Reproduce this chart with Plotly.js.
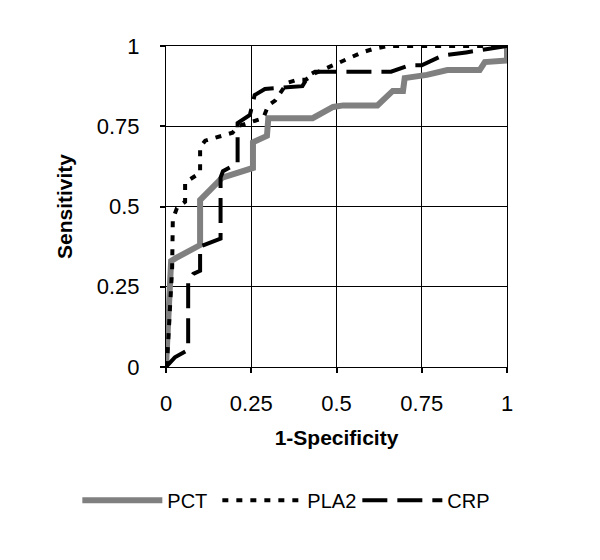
<!DOCTYPE html>
<html>
<head>
<meta charset="utf-8">
<script src="https://cdn.plot.ly/plotly-3.0.1.min.js"></script>
<style>
  body { margin: 0; background: #fff; }
  #roc { width: 600px; height: 560px; }
</style>
</head>
<body>
<div id="roc"></div>
<script>
// ROC points (1-specificity, sensitivity)
const pctX = [0, 0.015, 0.03, 0.10, 0.10, 0.165, 0.255, 0.255, 0.296, 0.30, 0.43, 0.49, 0.52, 0.62, 0.655, 0.665, 0.695, 0.70, 0.765, 0.825, 0.92, 0.935, 1.0, 1.0];
const pctY = [0, 0.33, 0.34, 0.38, 0.52, 0.59, 0.62, 0.70, 0.72, 0.775, 0.775, 0.81, 0.815, 0.815, 0.85, 0.86, 0.86, 0.90, 0.91, 0.925, 0.925, 0.95, 0.955, 1.0];

const pla2X = [0, 0.003, 0.018, 0.02, 0.032, 0.056, 0.056, 0.10, 0.10, 0.115, 0.195, 0.21, 0.285, 0.30, 0.32, 0.34, 0.355, 0.385, 0.41, 0.437, 0.50, 0.53, 0.575, 0.605, 0.65, 1.0];
const pla2Y = [0, 0.012, 0.31, 0.46, 0.495, 0.515, 0.575, 0.605, 0.685, 0.705, 0.73, 0.75, 0.775, 0.815, 0.83, 0.86, 0.885, 0.895, 0.895, 0.915, 0.945, 0.96, 0.98, 0.99, 1.0, 1.0];

const crpX = [0, 0.026, 0.065, 0.065, 0.08, 0.10, 0.10, 0.16, 0.16, 0.167, 0.21, 0.21, 0.246, 0.26, 0.29, 0.40, 0.42, 0.437, 0.66, 0.715, 0.75, 0.81, 0.88, 1.0];
const crpY = [0, 0.03, 0.053, 0.265, 0.29, 0.30, 0.375, 0.40, 0.59, 0.61, 0.635, 0.76, 0.785, 0.847, 0.866, 0.875, 0.91, 0.92, 0.92, 0.94, 0.94, 0.97, 0.98, 1.0];

const tickVals = [0, 0.25, 0.5, 0.75, 1];
const tickText = ['0', '0.25', '0.5', '0.75', '1'];

const pct = {
    x: pctX, y: pctY, mode: 'lines', name: 'PCT',
    line: { color: '#808080', width: 6 }
};
const pla2 = {
    x: pla2X, y: pla2Y, mode: 'lines', name: 'PLA2',
    line: { color: '#000000', width: 4, dash: '6px,8px' }
};
const crp = {
    x: crpX, y: crpY, mode: 'lines', name: 'CRP',
    line: { color: '#000000', width: 4, dash: '25px,10px' }
};

const axisCommon = {
    range: [0, 1],
    tickvals: tickVals,
    ticktext: tickText,
    showgrid: true,
    gridcolor: '#000',
    gridwidth: 1,
    showline: true,
    linecolor: '#000',
    linewidth: 1,
    mirror: true,
    zeroline: false,
    ticks: 'outside',
    ticklen: 5,
    tickwidth: 2,
    tickcolor: '#000',
    tickfont: { size: 22, color: '#000' }
};

const layout = {
    width: 600,
    height: 560,
    margin: { l: 166, r: 93, t: 46, b: 193 },
    font: { family: 'Liberation Sans, Arial, sans-serif', color: '#000' },
    paper_bgcolor: '#fff',
    plot_bgcolor: '#fff',
    showlegend: true,
    legend: {
        orientation: 'h',
        x: -0.26, xanchor: 'left',
        y: -0.415, yanchor: 'middle',
        font: { size: 20 },
        itemwidth: 80,
        entrywidth: 45,
        entrywidthmode: 'pixels'
    },
    xaxis: Object.assign({}, axisCommon, {
        ticklabelstandoff: 12,
        title: { text: '<b>1-Specificity</b>', font: { size: 21 }, standoff: 14 }
    }),
    yaxis: Object.assign({}, axisCommon, {
        ticklabelstandoff: 16,
        title: { text: '<b>Sensitivity</b>', font: { size: 21 }, standoff: 18 }
    })
};

Plotly.newPlot('roc', [pct, pla2, crp], layout, { displayModeBar: false, staticPlot: true });
</script>
</body>
</html>
